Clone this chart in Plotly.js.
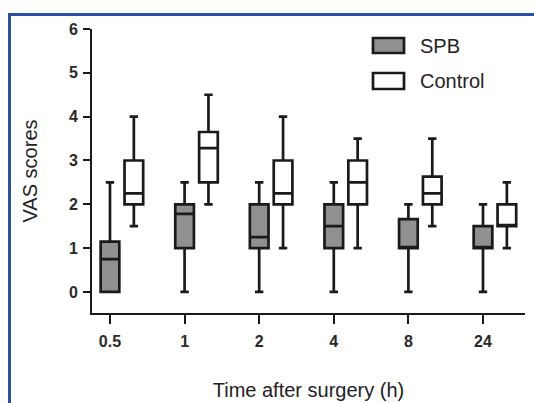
<!DOCTYPE html>
<html>
<head>
<meta charset="utf-8">
<script src="https://cdn.plot.ly/plotly-3.0.1.min.js"></script>
<style>
  html, body { margin: 0; padding: 0; background: #fff; }
  #wrap { position: relative; width: 534px; height: 403px; overflow: hidden; }
  #chart { position: absolute; left: 0; top: 0; width: 534px; height: 403px; }
  #frame { position: absolute; left: 8px; top: 13px; width: 600px; height: 500px;
           border-top: 3px solid #2b4fa0; border-left: 3px solid #2b4fa0; pointer-events: none; }
</style>
</head>
<body>
<div id="wrap">
  <div id="chart"></div>
  <div id="frame"></div>
</div>
<script>
// ---- data ----
const categories = ["0.5", "1", "2", "4", "8", "24"];

const spbLower  = [0, 0, 0, 0, 0, 0];
const spbQ1     = [0, 1, 1, 1, 1, 1];
const spbMedian = [0.75, 1.78, 1.25, 1.5, 1, 1];
const spbQ3     = [1.15, 2, 2, 2, 1.66, 1.5];
const spbUpper  = [2.5, 2.5, 2.5, 2.5, 2, 2];

const ctlLower  = [1.5, 2, 1, 1, 1.5, 1];
const ctlQ1     = [2, 2.5, 2, 2, 2, 1.5];
const ctlMedian = [2.25, 3.28, 2.25, 2.5, 2.25, 1.5];
const ctlQ3     = [3, 3.65, 3, 3, 2.63, 2];
const ctlUpper  = [4, 4.5, 4, 3.5, 3.5, 2.5];

const seriesNames = ["SPB", "Control"];

// ---- layout helpers ----
const W = 534, H = 403;
const M = { l: 92, r: 9, t: 29, b: 90 };
const pw = W - M.l - M.r, ph = H - M.t - M.b;
const px = x => (x - M.l) / pw;
const py = y => (H - M.b - y) / ph;

const idx = categories.map((c, i) => i);
const ctlOffset = 0.32;
const lineCol = "#1a1a1a";

const common = {
  type: "box",
  boxpoints: false,
  width: 0.25,
  whiskerwidth: 0.45,
  line: { color: lineCol, width: 2.7 },
  hoverinfo: "y",
  showlegend: false
};

const traces = [
  Object.assign({}, common, {
    name: seriesNames[0],
    x: idx,
    lowerfence: spbLower, q1: spbQ1, median: spbMedian, q3: spbQ3, upperfence: spbUpper,
    fillcolor: "#8f918f"
  }),
  Object.assign({}, common, {
    name: seriesNames[1],
    x: idx.map(i => i + ctlOffset),
    lowerfence: ctlLower, q1: ctlQ1, median: ctlMedian, q3: ctlQ3, upperfence: ctlUpper,
    fillcolor: "#ffffff"
  })
];

const font = "Liberation Sans, Arial, Helvetica, sans-serif";
const tickFont = { family: font, size: 16, color: "#2a2a2a", weight: "bold" };

const layout = {
  width: W, height: H,
  margin: M,
  paper_bgcolor: "rgba(0,0,0,0)",
  plot_bgcolor: "#ffffff",
  font: { family: font, color: "#222", size: 16 },
  xaxis: {
    range: [-0.241, 5.563],
    tickmode: "array",
    tickvals: idx,
    ticktext: categories,
    showline: true, linecolor: lineCol, linewidth: 2,
    ticks: "outside", ticklen: 9, tickwidth: 2, tickcolor: lineCol,
    ticklabelstandoff: 4,
    showgrid: false, zeroline: false,
    tickfont: tickFont,
    title: { text: "Time after surgery (h)", font: { family: font, size: 20, color: "#222" }, standoff: 34 },
    fixedrange: true
  },
  yaxis: {
    range: [-0.48, 6],
    tickmode: "array",
    tickvals: [0, 1, 2, 3, 4, 5, 6],
    showline: true, linecolor: lineCol, linewidth: 2,
    ticks: "outside", ticklen: 7, tickwidth: 2, tickcolor: lineCol,
    ticklabelstandoff: 2,
    showgrid: false, zeroline: false,
    tickfont: tickFont,
    title: { text: "VAS scores", font: { family: font, size: 20, color: "#222" }, standoff: 26 },
    fixedrange: true
  },
  shapes: [
    { type: "rect", xref: "paper", yref: "paper",
      x0: px(373), x1: px(404), y0: py(38), y1: py(53),
      fillcolor: "#8f918f", line: { color: lineCol, width: 2.7 } },
    { type: "rect", xref: "paper", yref: "paper",
      x0: px(373), x1: px(404), y0: py(73), y1: py(89),
      fillcolor: "#ffffff", line: { color: lineCol, width: 2.7 } }
  ],
  annotations: [
    { xref: "paper", yref: "paper", x: px(418), y: py(46), xanchor: "left", yanchor: "middle",
      text: seriesNames[0], showarrow: false, font: { family: font, size: 20, color: "#222" } },
    { xref: "paper", yref: "paper", x: px(418), y: py(81), xanchor: "left", yanchor: "middle",
      text: seriesNames[1], showarrow: false, font: { family: font, size: 20, color: "#222" } }
  ]
};

Plotly.newPlot("chart", traces, layout, { staticPlot: true, displayModeBar: false });
</script>
</body>
</html>
